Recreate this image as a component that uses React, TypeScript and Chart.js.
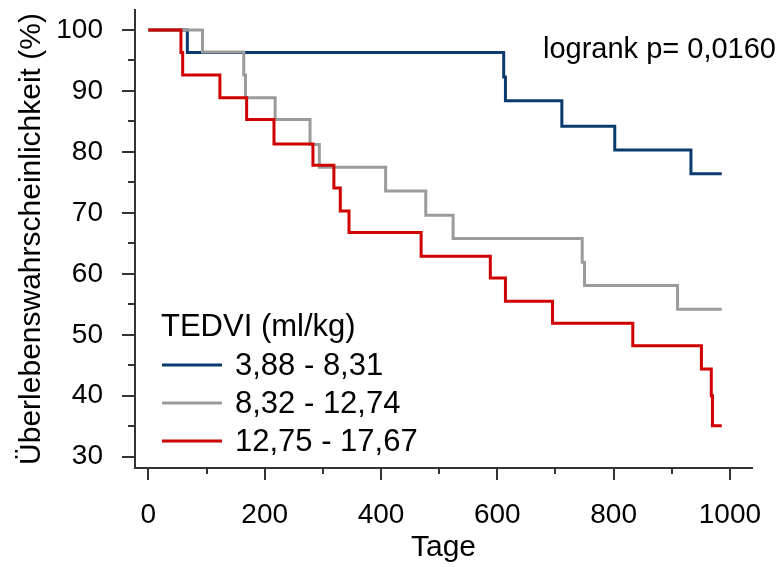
import React, { useEffect, useRef } from 'react';
import { Chart, registerables } from 'chart.js';

Chart.register(...registerables);

// ---- data ----
const blueDays = [0, 67, 611, 614, 711, 802, 933, 986];
const blueSurv = [100, 96.3, 92.3, 88.4, 84.2, 80.3, 76.4, 76.4];

const grayDays = [0, 93, 164, 167, 218, 278, 294, 408, 477, 524, 746, 750, 910, 986];
const graySurv = [100, 96.4, 92.6, 88.9, 85.3, 81.2, 77.5, 73.6, 69.6, 65.8, 61.9, 58.1, 54.2, 54.2];

const redDays = [0, 56, 59, 123, 169, 216, 283, 319, 330, 345, 469, 588, 614, 695, 833, 951, 968, 970, 986];
const redSurv = [100, 96.3, 92.6, 88.9, 85.3, 81.3, 77.8, 74.1, 70.3, 66.8, 62.9, 59.3, 55.5, 51.9, 48.2, 44.4, 40.0, 35.1, 35.1];

const seriesLabels = ['3,88 - 8,31', '8,32 - 12,74', '12,75 - 17,67'];
const legendTitle = 'TEDVI (ml/kg)';
const annotationText = 'logrank p= 0,0160';
const xTitle = 'Tage';
const yTitle = 'Überlebenswahrscheinlichkeit (%)';

const xMajorTicks = [0, 200, 400, 600, 800, 1000];
const xMinorTicks = [100, 300, 500, 700, 900];
const yMajorTicks = [30, 40, 50, 60, 70, 80, 90, 100];
const yMinorTicks = [35, 45, 55, 65, 75, 85, 95];

// ---- styles ----
const FONT = "'Liberation Sans', Arial, sans-serif";
const AXIS_COLOR = '#333333';
const COLORS = ['#0b3a6e', '#9b9b9b', '#d10000'];

const toPoints = (days: number[], surv: number[]) => days.map((d, i) => ({ x: d, y: surv[i] }));

const decorPlugin = {
  id: 'kmDecor',
  afterDraw(chart: any) {
    const { ctx, chartArea, scales } = chart;
    const xs = scales.x;
    const ys = scales.y;
    ctx.save();
    // tick marks
    ctx.strokeStyle = AXIS_COLOR;
    ctx.lineWidth = 2;
    ctx.beginPath();
    const b = chartArea.bottom;
    const l = chartArea.left;
    xMajorTicks.forEach((v) => {
      const px = Math.round(xs.getPixelForValue(v));
      ctx.moveTo(px, b);
      ctx.lineTo(px, b + 12);
    });
    xMinorTicks.forEach((v) => {
      const px = Math.round(xs.getPixelForValue(v));
      ctx.moveTo(px, b);
      ctx.lineTo(px, b + 6);
    });
    yMajorTicks.forEach((v) => {
      const py = Math.round(ys.getPixelForValue(v));
      ctx.moveTo(l, py);
      ctx.lineTo(l - 13, py);
    });
    yMinorTicks.forEach((v) => {
      const py = Math.round(ys.getPixelForValue(v));
      ctx.moveTo(l, py);
      ctx.lineTo(l - 7, py);
    });
    ctx.stroke();

    // annotation
    ctx.fillStyle = '#000';
    ctx.textBaseline = 'alphabetic';
    ctx.textAlign = 'left';
    ctx.font = `29px ${FONT}`;
    ctx.fillText(annotationText, 543, 58);

    // legend
    ctx.font = `31px ${FONT}`;
    ctx.fillText(legendTitle, 161, 336);
    const ds = chart.data.datasets;
    ds.forEach((d: any, i: number) => {
      const yLine = 365 + i * 38;
      ctx.strokeStyle = d.borderColor;
      ctx.lineWidth = 3;
      ctx.beginPath();
      ctx.moveTo(162, yLine);
      ctx.lineTo(222, yLine);
      ctx.stroke();
      ctx.fillStyle = '#000';
      ctx.fillText(d.label, 235, yLine + 10);
    });
    ctx.restore();
  },
};

export default function App() {
  const ref = useRef<HTMLCanvasElement | null>(null);

  useEffect(() => {
    if (!ref.current) return;
    const chart = new Chart(ref.current, {
      type: 'line',
      data: {
        datasets: [
          { label: seriesLabels[0], data: toPoints(blueDays, blueSurv), borderColor: COLORS[0], order: 3 },
          { label: seriesLabels[1], data: toPoints(grayDays, graySurv), borderColor: COLORS[1], order: 2 },
          { label: seriesLabels[2], data: toPoints(redDays, redSurv), borderColor: COLORS[2], order: 1 },
        ].map((d) => ({
          ...d,
          stepped: 'before' as const,
          borderWidth: 3,
          pointRadius: 0,
          pointHoverRadius: 0,
          fill: false,
          tension: 0,
          borderJoinStyle: 'miter' as const,
          borderCapStyle: 'butt' as const,
        })),
      },
      options: {
        animation: false,
        responsive: false,
        devicePixelRatio: 1,
        events: [],
        layout: { padding: { top: 10, right: 31, left: 0, bottom: 0 } },
        plugins: {
          legend: { display: false },
          tooltip: { enabled: false },
        },
        scales: {
          x: {
            type: 'linear',
            min: -23,
            max: 1038,
            afterFit: (s: any) => {
              s.height = 99;
              s.paddingLeft = 0;
              s.paddingRight = 0;
            },
            afterBuildTicks: (s: any) => {
              s.ticks = xMajorTicks.map((v) => ({ value: v }));
            },
            grid: { display: false },
            border: { display: true, color: AXIS_COLOR, width: 2 },
            ticks: {
              color: '#000',
              font: { family: FONT, size: 28 },
              padding: 22,
              maxRotation: 0,
              autoSkip: false,
              callback: (v: any) => String(v),
            },
            title: {
              display: true,
              text: xTitle,
              color: '#000',
              font: { family: FONT, size: 30 },
              padding: { top: 0, bottom: 1 },
            },
          },
          y: {
            type: 'linear',
            min: 28.15,
            max: 103.28,
            afterFit: (s: any) => {
              s.width = 135;
              s.paddingTop = 0;
              s.paddingBottom = 0;
            },
            afterBuildTicks: (s: any) => {
              s.ticks = yMajorTicks.map((v) => ({ value: v }));
            },
            grid: { display: false },
            border: { display: true, color: AXIS_COLOR, width: 2 },
            ticks: {
              color: '#000',
              font: { family: FONT, size: 28 },
              padding: 24,
              autoSkip: false,
              callback: (v: any) => String(v),
            },
            title: {
              display: true,
              text: yTitle,
              color: '#000',
              font: { family: FONT, size: 30 },
              padding: { top: 14, bottom: 0 },
            },
          },
        },
      },
      plugins: [decorPlugin],
    });
    return () => chart.destroy();
  }, []);

  return (
    <div style={{ position: 'absolute', left: 0, top: 0, width: 783, height: 567, background: '#fff' }}>
      <canvas ref={ref} width={783} height={567} style={{ display: 'block', width: 783, height: 567 }} />
    </div>
  );
}
